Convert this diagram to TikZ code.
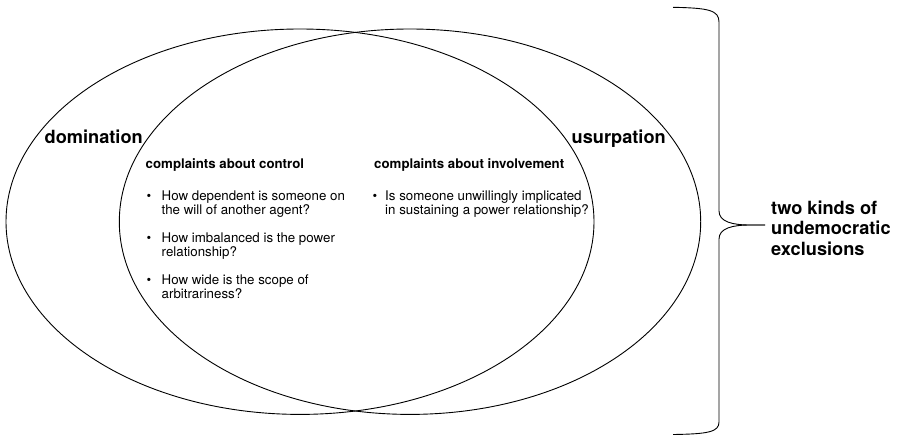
\documentclass[tikz,border=0pt]{standalone}
\usepackage{fontspec}
\setmainfont{TeX Gyre Heros}
\usetikzlibrary{shapes.geometric}
\tikzset{
  venn/.style={draw, ellipse, line width=0.9pt, inner sep=0pt, outer sep=0pt},
  bracepath/.style={draw, line width=0.9pt},
  big/.style={font=\fontsize{18.2}{20.5}\selectfont\bfseries, inner sep=0pt, anchor=base west},
  head/.style={font=\fontsize{13.25}{14}\selectfont\bfseries, inner sep=0pt, anchor=base west},
  txt/.style={font=\fontsize{13.3}{14}\selectfont, inner sep=0pt, anchor=base west},
}
\begin{document}
\begin{tikzpicture}[x=1pt, y=-1pt]
\useasboundingbox (0,0) rectangle (899,436);
% ellipses
\node[venn, minimum width=588pt, minimum height=385.4pt] (dom) at (300,221.7) {};
\node[venn, minimum width=581.4pt, minimum height=385.4pt] (usu) at (410,221.7) {};
% labels of the ellipses
\node[big] (domlbl) at (44.5,143.3) {domination};
\node[big] (usulbl) at (571.5,143.3) {usurpation};
% left column
\node[head] (hctrl) at (145.5,168.5) {complaints about control};
\node[txt] (b1) at (146.3,200) {\textbullet};
\node[txt] (c1a) at (161.5,200) {How dependent is someone on};
\node[txt] (c1b) at (161.5,214) {the will of another agent?};
\node[txt] (b2) at (146.3,242.2) {\textbullet};
\node[txt] (c2a) at (161.5,242.2) {How imbalanced is the power};
\node[txt] (c2b) at (161.5,256.2) {relationship?};
\node[txt] (b3) at (146.3,284.4) {\textbullet};
\node[txt] (c3a) at (161.5,284.4) {How wide is the scope of};
\node[txt] (c3b) at (161.5,298.4) {arbitrariness?};
% right column
\node[head] (hinv) at (374,168.5) {complaints about involvement};
\node[txt] (b4) at (372.5,200) {\textbullet};
\node[txt] (i1a) at (385,200) {Is someone unwillingly implicated};
\node[txt] (i1b) at (385,214) {in sustaining a power relationship?};
% brace
\coordinate (tip) at (765,225);
\draw[bracepath] (673,7.3) .. controls (708,8) and (719,10) .. (719,22)
  -- (719,211) .. controls (719,222) and (733,225) .. (750,225) -- (tip);
\draw[bracepath] (tip) -- (750,225) .. controls (733,225) and (719,228) .. (719,239)
  -- (719,422) .. controls (719,432) and (708,434) .. (673,434.5);
% brace label
\node[big] (k1) at (771,214) {two kinds of};
\node[big] (k2) at (771,234.5) {undemocratic};
\node[big] (k3) at (771,255) {exclusions};
\end{tikzpicture}
\end{document}
